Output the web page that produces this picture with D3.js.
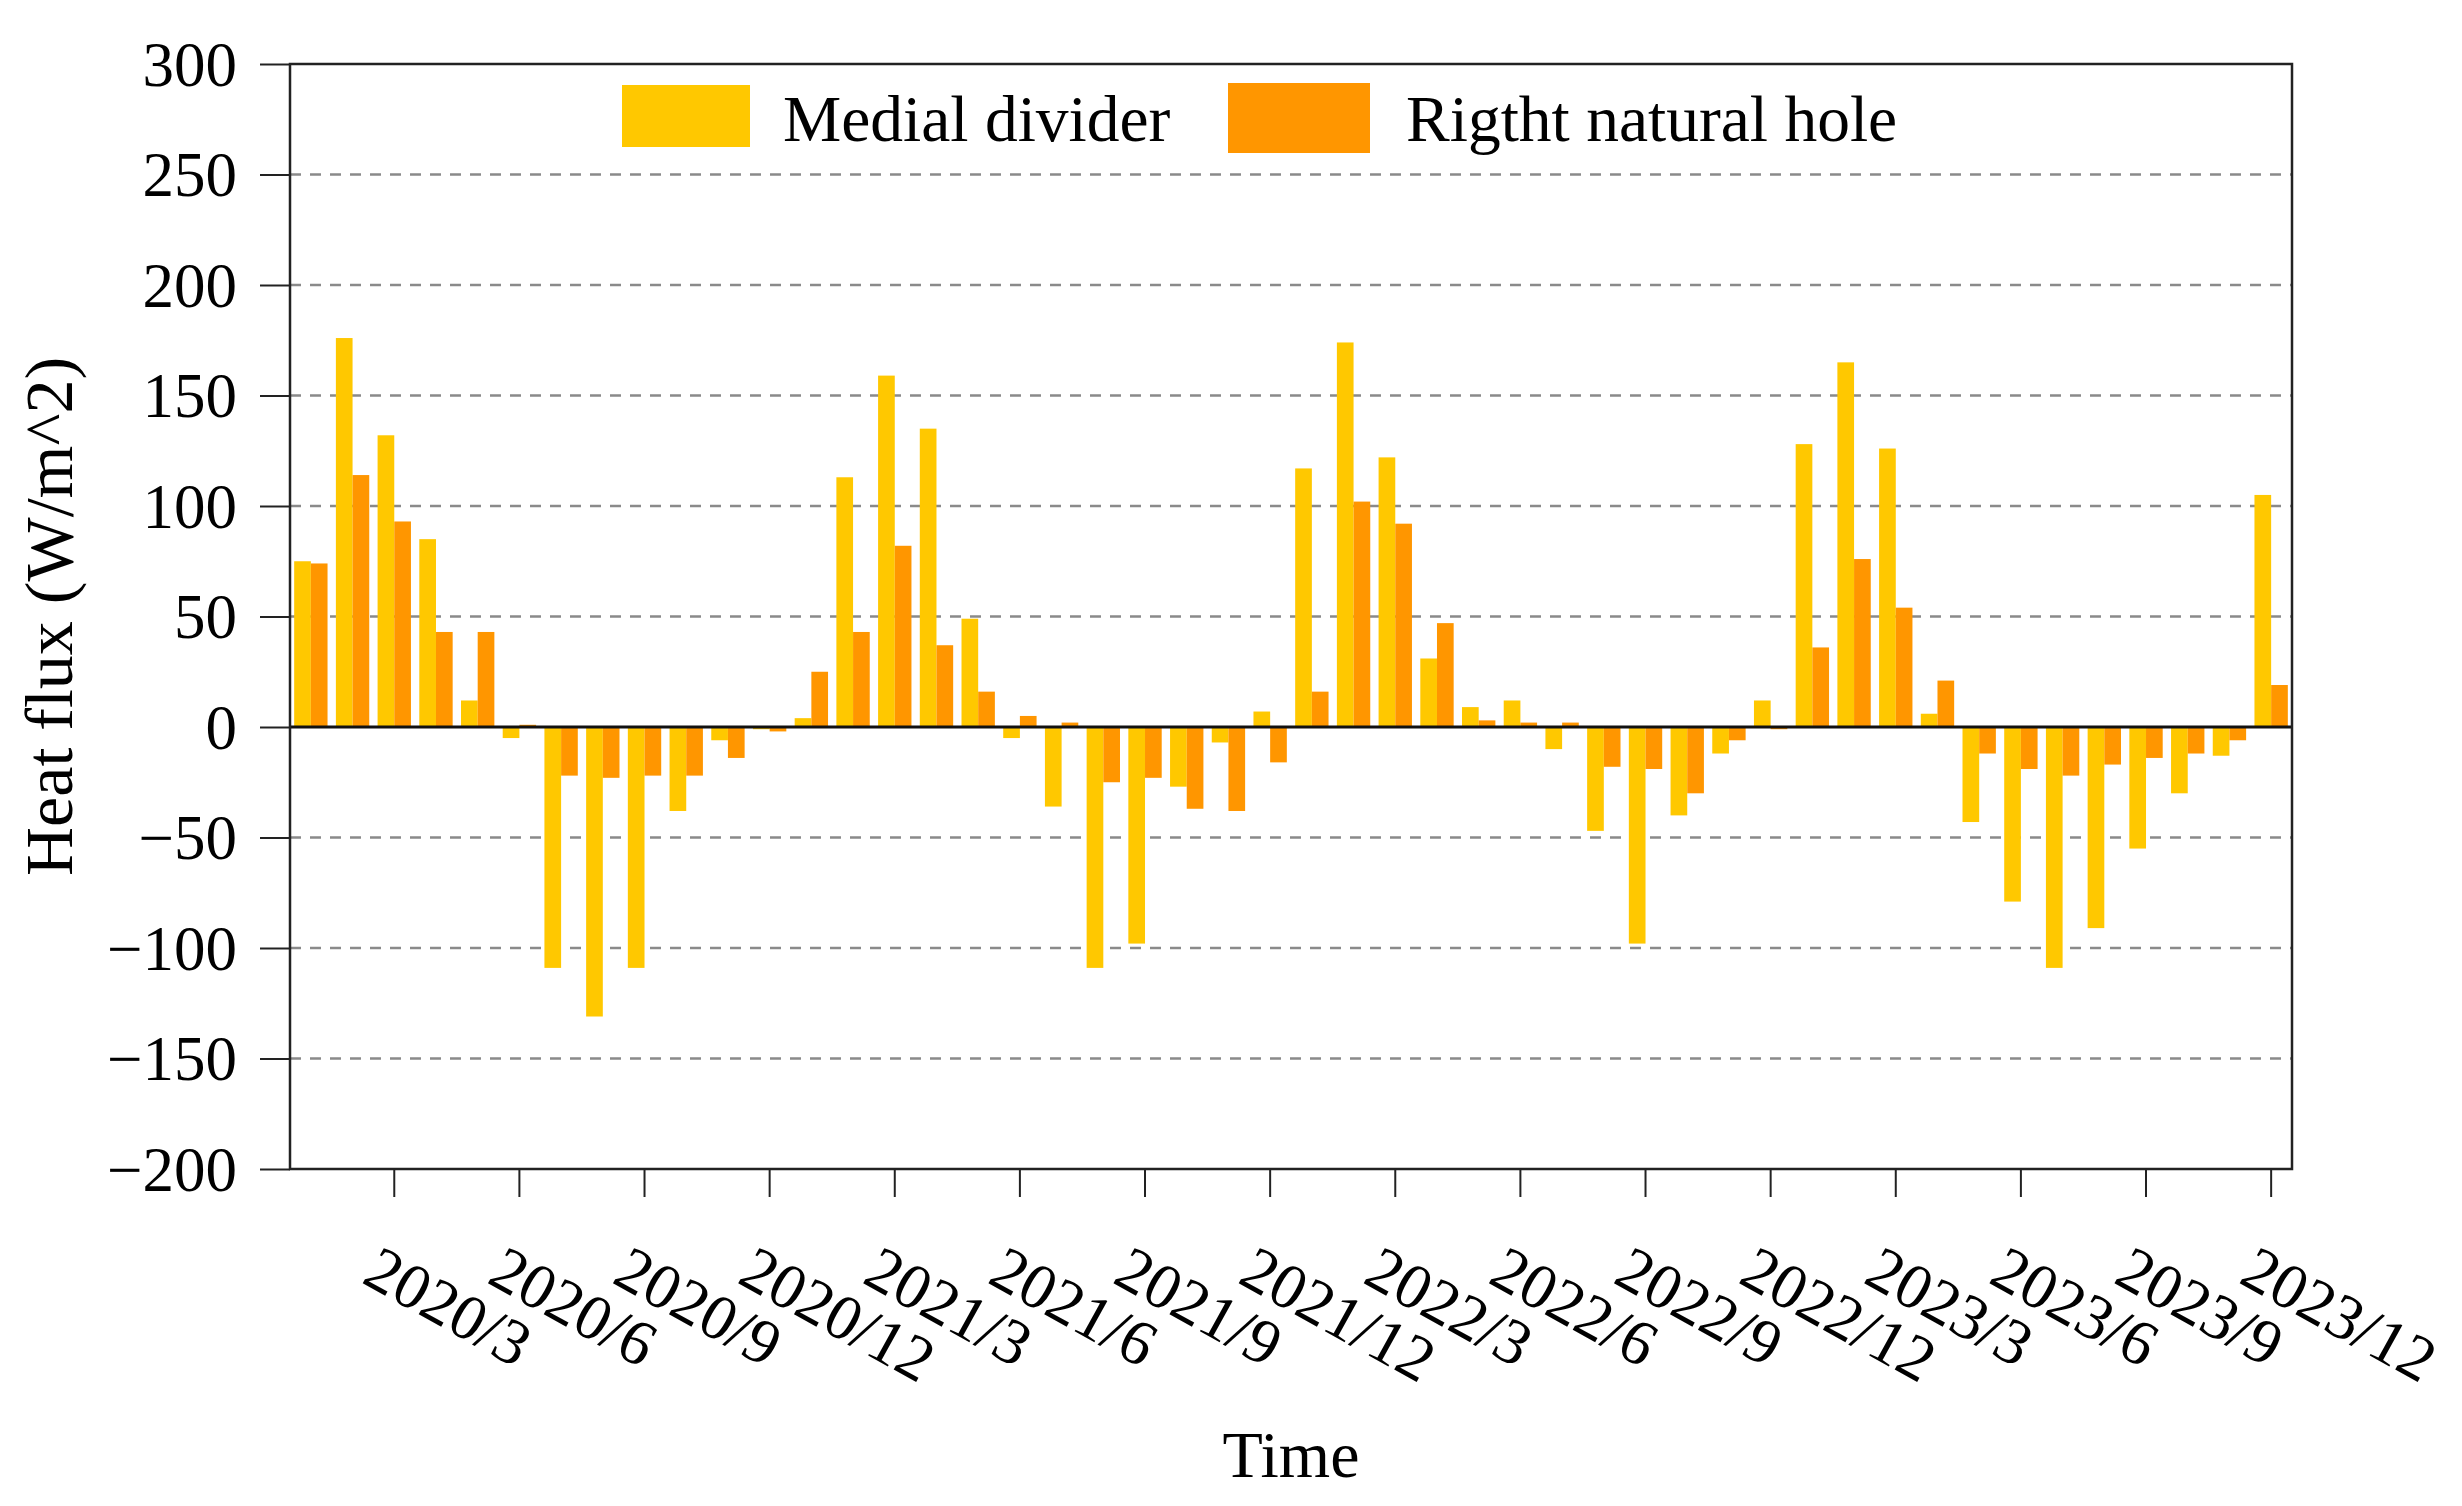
<!DOCTYPE html>
<html lang="en">
<head>
<meta charset="UTF-8">
<title>Heat flux</title>
<style>
  body { margin: 0; background: #fff; }
  text { font-family: "Liberation Serif", "Times New Roman", serif; fill: #000; }
</style>
</head>
<body>
<script src="https://cdn.jsdelivr.net/npm/d3@7/dist/d3.min.js"></script>
<script>
// monthly categories, Jan 2020 .. Dec 2023
var months = [
  "2020/1", "2020/2", "2020/3", "2020/4", "2020/5", "2020/6", "2020/7", "2020/8", "2020/9", "2020/10", "2020/11", "2020/12",
  "2021/1", "2021/2", "2021/3", "2021/4", "2021/5", "2021/6", "2021/7", "2021/8", "2021/9", "2021/10", "2021/11", "2021/12",
  "2022/1", "2022/2", "2022/3", "2022/4", "2022/5", "2022/6", "2022/7", "2022/8", "2022/9", "2022/10", "2022/11", "2022/12",
  "2023/1", "2023/2", "2023/3", "2023/4", "2023/5", "2023/6", "2023/7", "2023/8", "2023/9", "2023/10", "2023/11", "2023/12"
];
var medialDivider = [
  75, 176, 132, 85, 12, -5, -109, -131, -109, -38, -6, -1,
  4, 113, 159, 135, 49, -5, -36, -109, -98, -27, -7, 7,
  117, 174, 122, 31, 9, 12, -10, -47, -98, -40, -12, 12,
  128, 165, 126, 6, -43, -79, -109, -91, -55, -30, -13, 105
];
var rightHole = [
  74, 114, 93, 43, 43, 1, -22, -23, -22, -22, -14, -2,
  25, 43, 82, 37, 16, 5, 2, -25, -23, -37, -38, -16,
  16, 102, 92, 47, 3, 2, 2, -18, -19, -30, -6, -1,
  36, 76, 54, 21, -12, -19, -22, -17, -14, -12, -6, 19
];
var seriesNames = ["Medial divider", "Rigtht natural hole"];
var xTickLabels = ["2020/3", "2020/6", "2020/9", "2020/12", "2021/3", "2021/6", "2021/9", "2021/12",
  "2022/3", "2022/6", "2022/9", "2022/12", "2023/3", "2023/6", "2023/9", "2023/12"];
var yTicks = [-200, -150, -100, -50, 0, 50, 100, 150, 200, 250, 300];

(function() {
  var W = 2462, H = 1506;
  var left = 290, right = 2292, top = 64, bottom = 1169;
  var colors = ["#FFC800", "#FF9600"];

  var svg = d3.select("body").append("svg")
    .attr("width", W)
    .attr("height", H);

  var x = d3.scaleBand()
    .domain(months)
    .range([left, right])
    .paddingInner(0.2)
    .paddingOuter(0.1);

  var xs = d3.scaleBand()
    .domain([0, 1])
    .range([0, x.bandwidth()]);

  var y = d3.scaleLinear()
    .domain([-200, 300])
    .range([bottom, top]);

  // dashed grid
  svg.append("g")
    .selectAll("line")
    .data(yTicks.filter(function(d) { return d !== 0 && d !== -200 && d !== 300; }))
    .enter().append("line")
    .attr("x1", left).attr("x2", right)
    .attr("y1", function(d) { return y(d); })
    .attr("y2", function(d) { return y(d); })
    .attr("stroke", "#8a8a8a")
    .attr("stroke-width", 2.5)
    .attr("stroke-dasharray", "11,9");

  var rows = months.map(function(m, i) {
    return { month: m, values: [medialDivider[i], rightHole[i]] };
  });

  var groups = svg.append("g")
    .selectAll("g")
    .data(rows)
    .enter().append("g")
    .attr("transform", function(d) { return "translate(" + x(d.month) + ",0)"; });

  groups.selectAll("rect")
    .data(function(d) { return d.values.map(function(v, k) { return { k: k, v: v }; }); })
    .enter().append("rect")
    .attr("x", function(d) { return xs(d.k); })
    .attr("width", xs.bandwidth())
    .attr("y", function(d) { return y(Math.max(0, d.v)); })
    .attr("height", function(d) { return Math.abs(y(d.v) - y(0)); })
    .attr("fill", function(d) { return colors[d.k]; });

  // zero line
  svg.append("line")
    .attr("x1", left).attr("x2", right)
    .attr("y1", y(0)).attr("y2", y(0))
    .attr("stroke", "#111")
    .attr("stroke-width", 3);

  // frame
  svg.append("rect")
    .attr("x", left).attr("y", top)
    .attr("width", right - left).attr("height", bottom - top)
    .attr("fill", "none")
    .attr("stroke", "#222")
    .attr("stroke-width", 2.5);

  var yAxis = svg.append("g")
    .attr("transform", "translate(" + left + ",0)")
    .call(d3.axisLeft(y)
      .tickValues(yTicks)
      .tickSize(30)
      .tickPadding(23)
      .tickFormat(function(d) { return d < 0 ? "\u2212" + Math.abs(d) : d; }));
  yAxis.select(".domain").remove();
  yAxis.selectAll("line").attr("stroke", "#222").attr("stroke-width", 2);
  yAxis.selectAll("text")
    .attr("font-family", "Liberation Serif, serif")
    .attr("font-size", 63)
    .attr("dy", "0.34em");

  var xAxis = svg.append("g")
    .attr("transform", "translate(0," + bottom + ")")
    .call(d3.axisBottom(x).tickValues(xTickLabels).tickSize(28));
  xAxis.select(".domain").remove();
  xAxis.selectAll("line").attr("stroke", "#222").attr("stroke-width", 2);
  xAxis.selectAll("text")
    .attr("font-family", "Liberation Serif, serif")
    .attr("font-size", 64)
    .attr("text-anchor", "start")
    .attr("x", 0).attr("y", 0).attr("dy", 0)
    .attr("transform", "translate(-34,113) rotate(29)");

  // axis titles
  svg.append("text")
    .attr("transform", "translate(72," + (top + bottom) / 2 + ") rotate(-90)")
    .attr("text-anchor", "middle")
    .attr("font-size", 68)
    .text("Heat flux (W/m^2)");

  svg.append("text")
    .attr("x", (left + right) / 2)
    .attr("y", 1477)
    .attr("text-anchor", "middle")
    .attr("font-size", 66)
    .text("Time");

  // legend
  var legend = [
    { x: 622, y: 85, w: 128, h: 62, tx: 783 },
    { x: 1228, y: 83, w: 142, h: 70, tx: 1406 }
  ];
  var lg = svg.append("g")
    .selectAll("g")
    .data(legend)
    .enter().append("g");
  lg.append("rect")
    .attr("x", function(d) { return d.x; })
    .attr("y", function(d) { return d.y; })
    .attr("width", function(d) { return d.w; })
    .attr("height", function(d) { return d.h; })
    .attr("fill", function(d, i) { return colors[i]; });
  lg.append("text")
    .attr("x", function(d) { return d.tx; })
    .attr("y", 141)
    .attr("font-size", 65.5)
    .text(function(d, i) { return seriesNames[i]; });
})();
</script>
</body>
</html>
